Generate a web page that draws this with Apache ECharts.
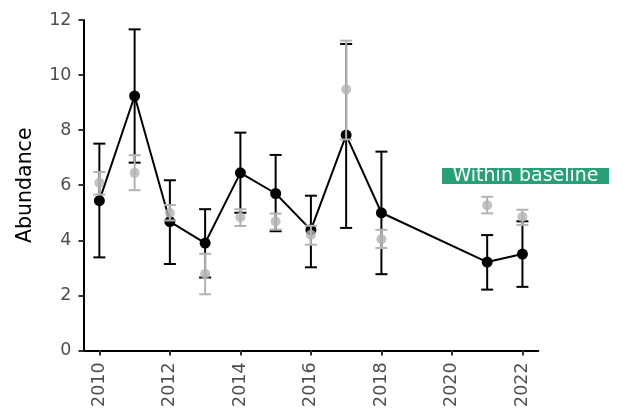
<!DOCTYPE html>
<html>
<head>
<meta charset="utf-8">
<script src="https://cdn.jsdelivr.net/npm/echarts@6/dist/echarts.min.js"></script>
<style>html,body{margin:0;padding:0;background:#fff}#c{width:622px;height:410px}</style>
</head>
<body>
<div id="c"></div>
<script>
const years = [2010, 2011, 2012, 2013, 2014, 2015, 2016, 2017, 2018, 2021, 2022];
const mainValues = [5.44, 9.24, 4.68, 3.90, 6.45, 5.70, 4.38, 7.82, 5.00, 3.21, 3.50];
const mainLower  = [3.38, 6.82, 3.14, 2.65, 5.00, 4.33, 3.02, 4.45, 2.77, 2.21, 2.31];
const mainUpper  = [7.51, 11.66, 6.18, 5.13, 7.91, 7.10, 5.62, 11.13, 7.22, 4.19, 4.69];
const baseValues = [6.09, 6.45, 4.99, 2.78, 4.84, 4.68, 4.20, 9.48, 4.04, 5.27, 4.85];
const baseLower  = [5.66, 5.82, 4.72, 2.04, 4.52, 4.39, 3.84, 7.66, 3.72, 4.98, 4.56];
const baseUpper  = [6.48, 7.09, 5.28, 3.51, 5.13, 4.97, 4.53, 11.25, 4.38, 5.58, 5.11];
const xTicks = [2010, 2012, 2014, 2016, 2018, 2020, 2022];
const yTicks = [0, 2, 4, 6, 8, 10, 12];
const labelText = 'Within baseline';

const font = 'DejaVu Sans, sans-serif';
const BLACK = '#000000';
const GREY = '#b3b3b3';

function errData(lo, hi) { return years.map((y, i) => [y, lo[i], hi[i]]); }
function errRender(color) {
  return function (params, api) {
    const x = api.value(0);
    const p1 = api.coord([x, api.value(1)]);
    const p2 = api.coord([x, api.value(2)]);
    const w = 6;
    const st = { stroke: color, lineWidth: 2, fill: null };
    return {
      type: 'group',
      children: [
        { type: 'line', shape: { x1: p1[0], y1: p1[1], x2: p2[0], y2: p2[1] }, style: st },
        { type: 'line', shape: { x1: p1[0] - w, y1: p1[1], x2: p1[0] + w, y2: p1[1] }, style: st },
        { type: 'line', shape: { x1: p2[0] - w, y1: p2[1], x2: p2[0] + w, y2: p2[1] }, style: st }
      ]
    };
  };
}

const chart = echarts.init(document.getElementById('c'), null, { renderer: 'canvas' });
chart.setOption({
  animation: false,
  backgroundColor: '#ffffff',
  grid: { left: 83.5, right: 83.7, top: 20, bottom: 57.7, containLabel: false },
  xAxis: {
    type: 'value', min: 2009.55, max: 2022.45,
    axisLine: { show: true, lineStyle: { color: '#000', width: 2 } },
    axisTick: { show: true, length: 5, lineStyle: { color: '#333', width: 2 }, customValues: xTicks },
    axisLabel: { rotate: 90, margin: 12, fontSize: 17.5, color: '#4d4d4d', fontFamily: font, customValues: xTicks, formatter: v => String(v) },
    splitLine: { show: false }
  },
  yAxis: {
    type: 'value', min: 0, max: 12, interval: 2,
    name: 'Abundance', nameLocation: 'middle', nameRotate: 90, nameGap: 47,
    nameTextStyle: { fontSize: 20.5, color: '#000', fontFamily: font },
    axisLine: { show: true, lineStyle: { color: '#000', width: 2 } },
    axisTick: { show: true, length: 5, lineStyle: { color: '#333', width: 2 }, customValues: yTicks },
    axisLabel: { margin: 12, fontSize: 17.5, color: '#4d4d4d', fontFamily: font, customValues: yTicks },
    splitLine: { show: false }
  },
  series: [
    { type: 'custom', name: 'mainErr', data: errData(mainLower, mainUpper), renderItem: errRender(BLACK), z: 2, encode: { x: 0, y: [1, 2] } },
    { type: 'line', name: 'main', data: years.map((y, i) => [y, mainValues[i]]), symbol: 'circle', symbolSize: 11,
      lineStyle: { color: BLACK, width: 2 }, itemStyle: { color: BLACK }, z: 3 },
    { type: 'custom', name: 'baseErr', data: errData(baseLower, baseUpper), renderItem: errRender(GREY), z: 4, encode: { x: 0, y: [1, 2] } },
    { type: 'scatter', name: 'base', data: years.map((y, i) => [y, baseValues[i]]), symbol: 'circle', symbolSize: 10,
      itemStyle: { color: GREY }, z: 5 }
  ],
  graphic: [
    { type: 'rect', shape: { x: 442, y: 168, width: 167, height: 16 }, style: { fill: '#27a077' }, z: 10 },
    { type: 'text', x: 525.5, y: 176.5, style: { text: labelText, fill: '#ffffff', font: '19px ' + font, textAlign: 'center', textVerticalAlign: 'middle' }, z: 11 }
  ]
});
</script>
</body>
</html>
